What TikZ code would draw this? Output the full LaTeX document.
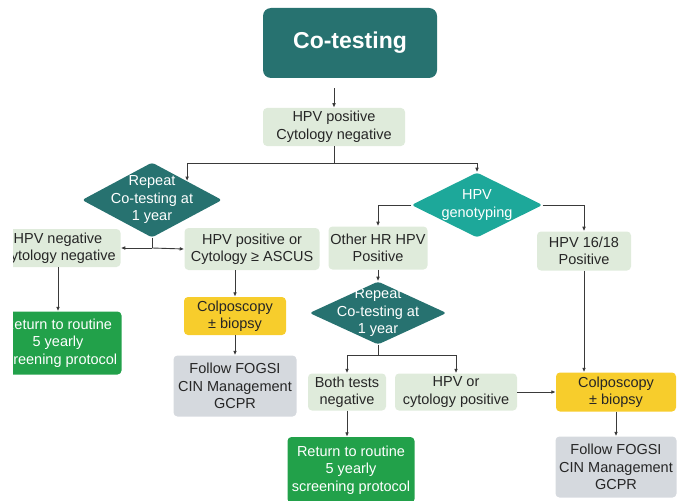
\documentclass[tikz,border=0pt]{standalone}
\usepackage{fontspec}
\setmainfont{Liberation Sans}
\usetikzlibrary{arrows.meta,positioning,shapes.geometric}
\definecolor{sotet}{HTML}{277270}
\definecolor{turkiz}{HTML}{1DA89A}
\definecolor{halvany}{HTML}{DFEBDB}
\definecolor{sarga}{HTML}{F7CD2C}
\definecolor{zold}{HTML}{22A14A}
\definecolor{szurke}{HTML}{D5D9DE}
\definecolor{vonal}{HTML}{3A3A3A}
\tikzset{
  nyil/.style={-{Latex[length=1.6mm,width=1.3mm]},draw=vonal,line width=0.9pt},
  seg/.style={draw=vonal,line width=0.9pt},
  dob/.style={rectangle,rounded corners=4pt,fill=halvany,align=center,inner sep=0pt,text=black!85},
  sdob/.style={dob,fill=sarga},
  zdob/.style={dob,fill=zold,text=white},
  gdob/.style={dob,fill=szurke},
  romb/.style={diamond,fill=sotet,inner sep=0pt,rounded corners=3pt},
  rtxt/.style={text=white,align=center},
}

\begin{document}
\begin{tikzpicture}[x=1pt,y=-1pt,font=\fontsize{14.5}{17.5}\selectfont]
  \useasboundingbox (0,0) rectangle (687,500);
  \begin{scope}
  \clip (13,0) rectangle (687,500);
  % top
  \node (cot) [dob,fill=sotet,text=white,rounded corners=8pt,minimum width=174pt,minimum height=70pt,
    font=\fontsize{23}{27}\selectfont\bfseries] at (350,43) {Co-testing};
  \node (hpvcyt) [dob,minimum width=142pt,minimum height=38pt] at (334,127) {HPV positive\\Cytology negative};
  \coordinate (sp) at (334,163);
  % left branch
  \node (rep1) [romb,minimum width=140pt,minimum height=75pt,
    label={[rtxt]center:{Repeat\\Co-testing at\\1 year}}] at (152,200) {};
  \node (hpvneg) [dob,minimum width=125pt,minimum height=38pt] at (58,248) {HPV negative\\Cytology negative};
  \node (hpvpos) [dob,minimum width=135pt,minimum height=42pt] at (252,249) {HPV positive or\\Cytology ≥ ASCUS};
  \node (retL) [zdob,minimum width=127pt,minimum height=63pt] at (58,343) {Return to routine\\5 yearly\\screening protocol};
  \node (colL) [sdob,minimum width=102pt,minimum height=38pt] at (235,316) {Colposcopy\\± biopsy};
  \node (fogL) [gdob,minimum width=123pt,minimum height=61pt] at (235,386) {Follow FOGSI\\CIN Management\\GCPR};
  \coordinate (j1) at (152,248);
  % right branch
  \node (geno) [romb,fill=turkiz,minimum width=131pt,minimum height=65pt,
    label={[rtxt]center:{HPV\\genotyping}}] at (477,205) {};
  \node (other) [dob,minimum width=99pt,minimum height=43pt] at (378,248) {Other HR HPV\\Positive};
  \node (h1618) [dob,minimum width=94pt,minimum height=39pt] at (584,251) {HPV 16/18\\Positive};
  \node (rep2) [romb,minimum width=137pt,minimum height=63pt,
    label={[rtxt]center:{Repeat\\Co-testing at\\1 year}}] at (378,313) {};
  \coordinate (j2) at (378,355);
  \node (both) [dob,minimum width=78pt,minimum height=37pt] at (347,392) {Both tests\\negative};
  \node (hpvor) [dob,minimum width=122pt,minimum height=37pt] at (456,392) {HPV or\\cytology positive};
  \node (retM) [zdob,minimum width=127pt,minimum height=66pt] at (351,470) {Return to routine\\5 yearly\\screening protocol};
  \node (colR) [sdob,minimum width=120pt,minimum height=39pt] at (616,392) {Colposcopy\\± biopsy};
  \node (fogR) [gdob,minimum width=121pt,minimum height=61pt] at (616,467) {Follow FOGSI\\CIN Management\\GCPR};
  % connectors
  \draw[nyil,shorten <=10pt] (hpvcyt.north |- cot.south) -- (hpvcyt.north);
  \draw[seg] (hpvcyt) -- (sp);
  \draw[nyil] (sp) -| (rep1.north east);
  \draw[nyil] (sp) -| (geno.north);
  \draw[seg] (rep1.south) -- (j1);
  \draw[nyil] (j1) -- (hpvneg.east);
  \draw[nyil] (j1) -- (hpvpos.west);
  \draw[nyil] (hpvneg) -- (retL);
  \draw[nyil] (colL.north |- hpvpos.south) -- (colL.north);
  \draw[nyil] (colL) -- (fogL);
  \draw[nyil] (geno.west) -| (other.north);
  \draw[nyil] (geno.east) -| (h1618.north);
  \draw[nyil] (other) -- (rep2);
  \draw[seg] (rep2.south) -- (j2);
  \draw[nyil] (j2) -| (both.north);
  \draw[nyil] (j2) -| (hpvor.north);
  \draw[nyil] (both) -- (both.south |- retM.north);
  \draw[nyil] (hpvor) -- (colR);
  \draw[nyil] (h1618) -- (h1618.south |- colR.north);
  \draw[nyil] (colR) -- (fogR);
  \end{scope}
\end{tikzpicture}
\end{document}
